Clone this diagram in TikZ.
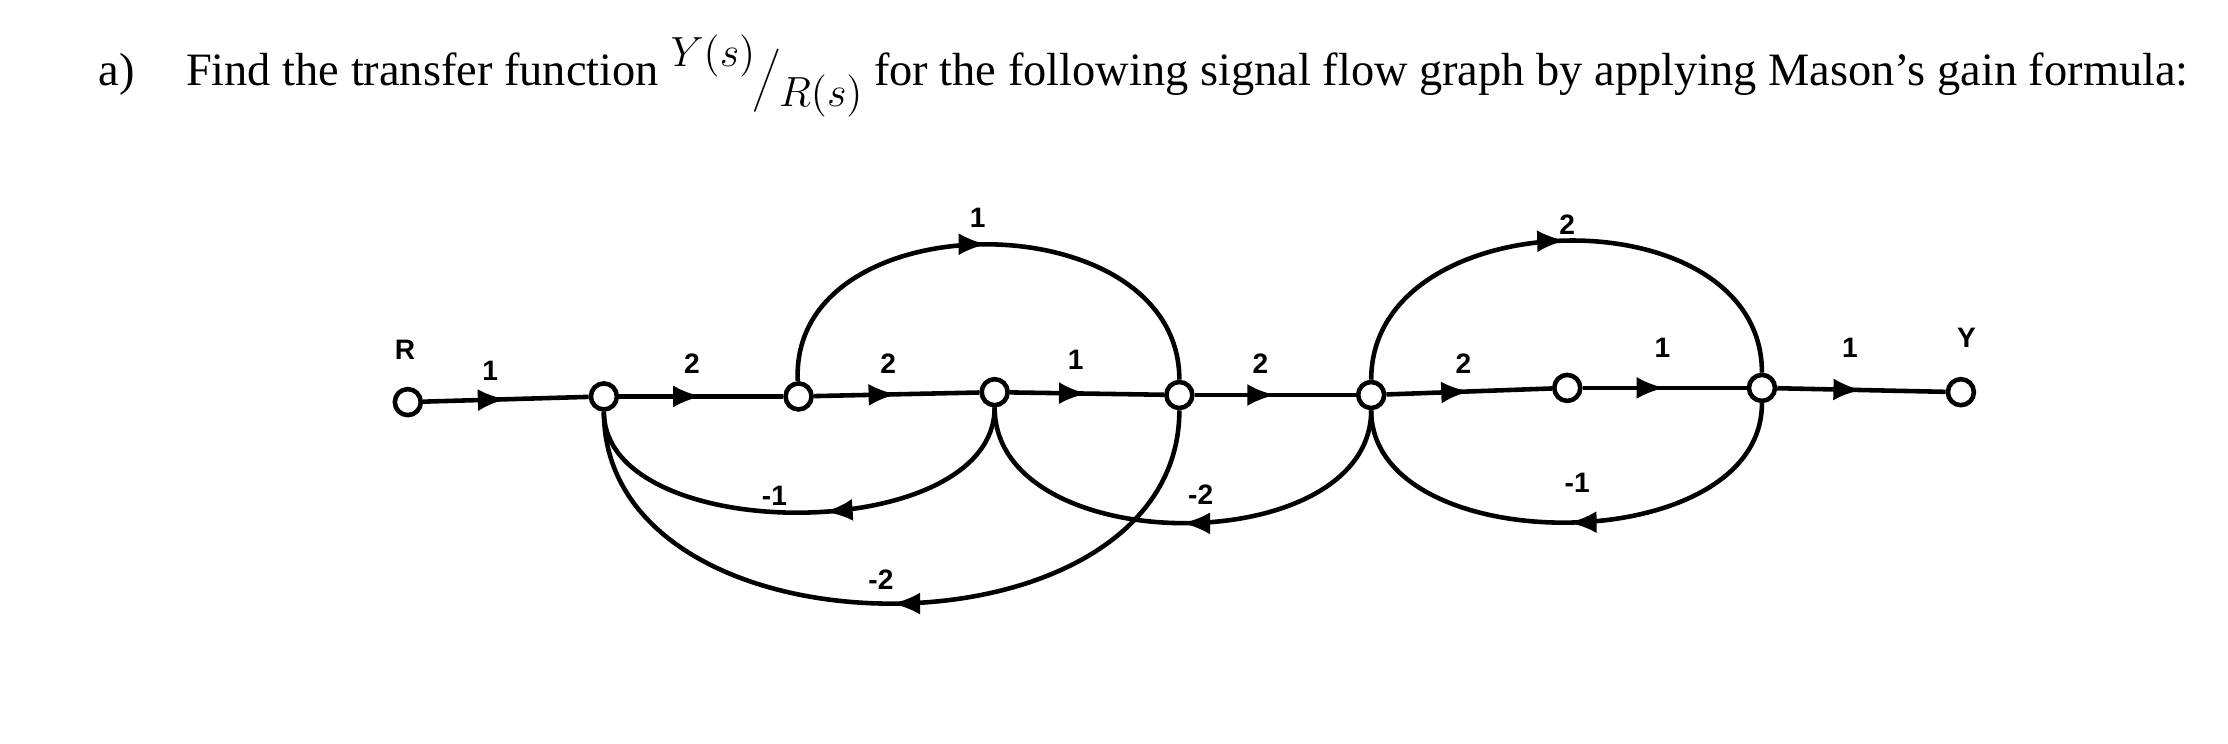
\documentclass[tikz,border=0pt]{standalone}
\usepackage{fontspec}
\setmainfont{Liberation Serif}
\setsansfont{Liberation Sans}
\usetikzlibrary{decorations.markings,arrows.meta}
\begin{document}
\begin{tikzpicture}[x=0.01421cm,y=-0.01421cm,line width=1.3pt,
  nd/.style={circle,draw,fill=white,inner sep=0pt,minimum size=0.26cm,line width=1.3pt},
  lb/.style={font=\sffamily\bfseries\fontsize{8}{9}\selectfont,inner sep=1pt},
  mid/.style={postaction={decorate},decoration={markings,mark=at position #1 with {\arrow{Latex[length=0.28cm,width=0.22cm]}}}},
  mid/.default=0.5]
\useasboundingbox (0,0) rectangle (1568,523.6);
\node[anchor=base west,font=\fontsize{13.2}{16}\selectfont,inner sep=0] (title) at (68,60)
  {a)\hspace{1.1em}Find the transfer function \raisebox{0.9ex}{$Y(s)$}\hspace{-0.05em}\raisebox{-0.3ex}{$\Big/$}\hspace{-0.05em}\raisebox{-1.0ex}{$R(s)$} for the following signal flow graph by applying Mason's gain formula:};
\node[nd] (R) at (287,283) {};
\node[nd] (n1) at (425,279) {};
\node[nd] (n2) at (562,279) {};
\node[nd] (n3) at (700,276) {};
\node[nd] (n4) at (830,278) {};
\node[nd] (n5) at (965,278) {};
\node[nd] (n6) at (1103,273) {};
\node[nd] (n7) at (1240,273) {};
\node[nd] (Y) at (1380,276) {};
\draw[mid] (R) -- (n1);
\draw[mid] (n1) -- (n2);
\draw[mid] (n2) -- (n3);
\draw[mid] (n3) -- (n4);
\draw[mid] (n4) -- (n5);
\draw[mid] (n5) -- (n6);
\draw[mid] (n6) -- (n7);
\draw[mid] (n7) -- (Y);
% forward arcs
\draw[mid] (n2) .. controls (555,140) and (830,140) .. (n4);
\draw[mid] (n5) .. controls (965,140) and (1240,135) .. (n7);
% feedback arcs
\draw[mid=0.45] (n3) .. controls (700,385) and (425,385) .. (n1);
\draw[mid] (n4) .. controls (830,470) and (425,470) .. (n1);
\draw[mid] (n5) .. controls (965,395) and (700,395) .. (n3);
\draw[mid] (n7) .. controls (1240,395) and (965,395) .. (n5);
% labels
\node[lb] (lR) at (285,246) {R};
\node[lb] (lY) at (1384,238) {Y};
\node[lb] (e1) at (345,261) {1};
\node[lb] (e2) at (487,256) {2};
\node[lb] (e3) at (625,256) {2};
\node[lb] (e4) at (757,253) {1};
\node[lb] (e5) at (887,256) {2};
\node[lb] (e6) at (1030,256) {2};
\node[lb] (e7) at (1170,245) {1};
\node[lb] (e8) at (1302,245) {1};
\node[lb] (t1) at (688,153) {1};
\node[lb] (t2) at (1103,158) {2};
\node[lb] (b1) at (545,349) {-1};
\node[lb] (b2) at (620,408) {-2};
\node[lb] (b3) at (845,348) {-2};
\node[lb] (b4) at (1110,340) {-1};
\end{tikzpicture}
\end{document}
